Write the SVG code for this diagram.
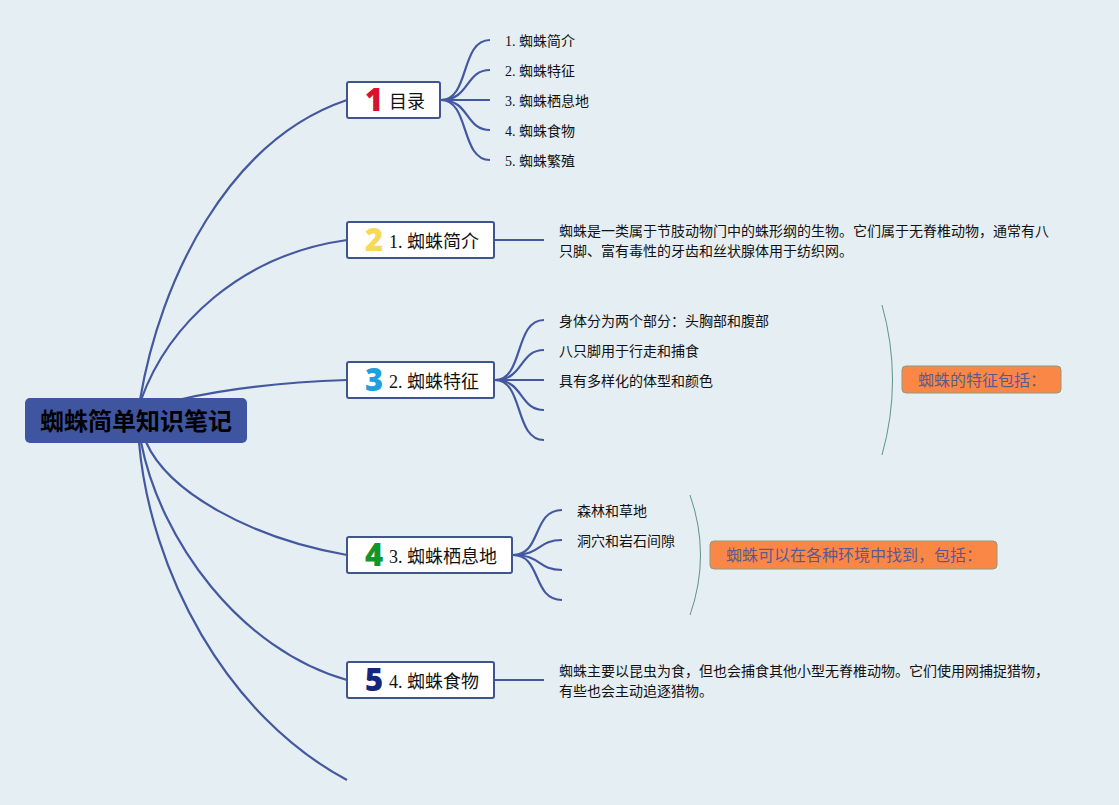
<svg xmlns="http://www.w3.org/2000/svg" width="1119" height="805" viewBox="0 0 1119 805">
<style>
text{font-family:"Liberation Serif","Noto Sans CJK SC",serif;fill:#111}
.c{fill:none;stroke:#43589f;stroke-width:2.2}
.b{fill:none;stroke:#5f9488;stroke-width:1}
.n{fill:#fff;stroke:#40558f;stroke-width:2}
.t{font-size:18px}
.l{font-size:14px}
.d{font-family:"Open Sans","Liberation Sans",sans-serif;font-size:31px;font-weight:800;text-anchor:middle}
.o{fill:#fb8747;stroke:#8f9b78;stroke-width:1}
.ot{font-size:16px;fill:#5b5a8f}
</style>
<rect width="1119" height="805" fill="#e5eef3"/>
<g id="connectors">
<path class="c" d="M140 400C160 280 228 140 347 100"/>
<path class="c" d="M141 400C168 325 240 255 347 240"/>
<path class="c" d="M180 399.5C230 388 290 382 347 380"/>
<path class="c" d="M146 442C168 492 250 538 347 555"/>
<path class="c" d="M141 442C160 540 240 650 347 680"/>
<path class="c" d="M139 442C150 570 225 715 347 780"/>
<path class="c" d="M441 100C470 100 460 40 490 40"/>
<path class="c" d="M441 100C470 100 465 70 490 70"/>
<path class="c" d="M441 100H490"/>
<path class="c" d="M441 100C470 100 465 130 490 130"/>
<path class="c" d="M441 100C470 100 460 160 490 160"/>
<path class="c" d="M495 240H544"/>
<path class="c" d="M495 380C524 380 514 320 544 320"/>
<path class="c" d="M495 380C524 380 519 350 544 350"/>
<path class="c" d="M495 380H544"/>
<path class="c" d="M495 380C524 380 519 410 544 410"/>
<path class="c" d="M495 380C524 380 514 440 544 440"/>
<path class="c" d="M513 555C542 555 532 510 562 510"/>
<path class="c" d="M513 555C542 555 537 540 562 540"/>
<path class="c" d="M513 555C542 555 537 570 562 570"/>
<path class="c" d="M513 555C542 555 532 600 562 600"/>
<path class="c" d="M495 680H544"/>
<path class="b" d="M882 305Q903 380 882 455"/>
<path class="b" d="M690 495Q711 555 690 615"/>
</g>
<g id="root"><rect x="25" y="398" width="222" height="45" rx="5" fill="#40559f"/><text x="40" y="430" font-size="24" font-weight="700" style="fill:#000">蜘蛛简单知识笔记</text></g>
<g id="n1"><rect class="n" x="347" y="82" width="93" height="36" rx="2"/><text class="d" x="374" y="111" style="fill:#d9122e">1</text><text class="t" x="389" y="108">目录</text></g>
<g id="n2"><rect class="n" x="347" y="222" width="147" height="36" rx="2"/><text class="d" x="374" y="251" style="fill:#f5d957">2</text><text class="t" x="389" y="248">1. 蜘蛛简介</text></g>
<g id="n3"><rect class="n" x="347" y="362" width="147" height="36" rx="2"/><text class="d" x="374" y="391" style="fill:#1f9fdf">3</text><text class="t" x="389" y="388">2. 蜘蛛特征</text></g>
<g id="n4"><rect class="n" x="347" y="537" width="165" height="36" rx="2"/><text class="d" x="374" y="566" style="fill:#12952a">4</text><text class="t" x="389" y="563">3. 蜘蛛栖息地</text></g>
<g id="n5"><rect class="n" x="347" y="662" width="147" height="36" rx="2"/><text class="d" x="374" y="691" style="fill:#16267a">5</text><text class="t" x="389" y="688">4. 蜘蛛食物</text></g>
<g id="toc">
<text class="l" x="505" y="46">1. 蜘蛛简介</text>
<text class="l" x="505" y="76">2. 蜘蛛特征</text>
<text class="l" x="505" y="106">3. 蜘蛛栖息地</text>
<text class="l" x="505" y="136">4. 蜘蛛食物</text>
<text class="l" x="505" y="166">5. 蜘蛛繁殖</text>
</g>
<g id="intro"><text class="l" x="559" y="236">蜘蛛是一类属于节肢动物门中的蛛形纲的生物。它们属于无脊椎动物，通常有八</text><text class="l" x="559" y="256">只脚、富有毒性的牙齿和丝状腺体用于纺织网。</text></g>
<g id="traits">
<text class="l" x="559" y="326">身体分为两个部分：头胸部和腹部</text>
<text class="l" x="559" y="356">八只脚用于行走和捕食</text>
<text class="l" x="559" y="386">具有多样化的体型和颜色</text>
</g>
<g id="traits-summary"><rect class="o" x="902" y="366" width="159" height="27" rx="4"/><text class="ot" x="918" y="386">蜘蛛的特征包括：</text></g>
<g id="habitat">
<text class="l" x="577" y="516">森林和草地</text>
<text class="l" x="577" y="546">洞穴和岩石间隙</text>
</g>
<g id="habitat-summary"><rect class="o" x="710" y="541" width="287" height="28" rx="4"/><text class="ot" x="726" y="561">蜘蛛可以在各种环境中找到，包括：</text></g>
<g id="food"><text class="l" x="559" y="676">蜘蛛主要以昆虫为食，但也会捕食其他小型无脊椎动物。它们使用网捕捉猎物，</text><text class="l" x="559" y="696">有些也会主动追逐猎物。</text></g>
</svg>
